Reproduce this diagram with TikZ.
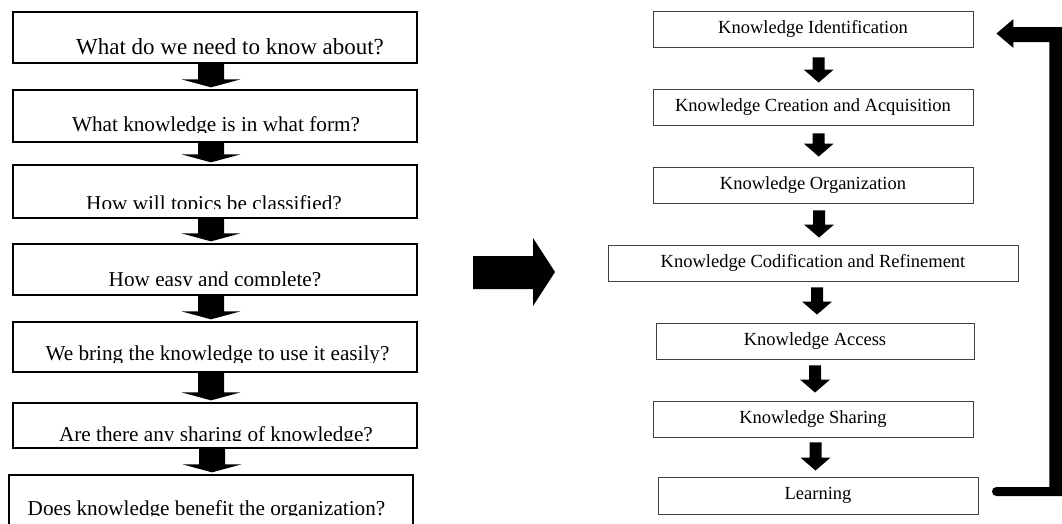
\documentclass[tikz,border=0pt]{standalone}
\usepackage{fontspec}
\setmainfont{Liberation Serif}
\usetikzlibrary{calc}
\newcommand\karrow[5]{%
  \fill[arrowfill] let \p1=(#1), \p2=(#2) in
    (\x1-#3,\y1) -- (\x1+#3,\y1) -- (\x1+#3,\y2+#5) -- (\x1+#4,\y2+#5) --
    (\x1,\y2) -- (\x1-#4,\y2+#5) -- (\x1-#3,\y2+#5) -- cycle;}
\tikzset{
  arrowfill/.style={fill=black},
  lbox/.style={draw=black, line width=1.3pt, inner sep=0pt, minimum width=404pt},
  ltext/.style={anchor=base, inner sep=0pt, font=\fontsize{21.2}{24}\selectfont},
  rbox/.style={draw=black!75, line width=0.9pt, inner sep=0pt, minimum height=36pt,
    font=\fontsize{18.5}{20}\selectfont, text height=13pt, text depth=4.5pt},
}
\begin{document}
\begin{tikzpicture}[x=1pt,y=-1pt]
\useasboundingbox (0,0) rectangle (1062,523);
\fill[white] (0,0) rectangle (1062,523);

% ---------- left column ----------
\node[lbox, minimum height=51pt] (b1) at (215,37.5) {};
\node[lbox, minimum height=52pt] (b2) at (215,116) {};
\node[lbox, minimum height=53pt] (b3) at (215,191.5) {};
\node[lbox, minimum height=51pt] (b4) at (215,269.5) {};
\node[lbox, minimum height=50pt] (b5) at (215,347) {};
\node[lbox, minimum height=45pt] (b6) at (215,425.5) {};
\node[lbox, minimum height=65pt] (b7) at (211,507.5) {};

\node[ltext, font=\fontsize{23}{26}\selectfont] (t1) at (230,54) {What do we need to know about?};
\begin{scope}\clip (13,90) rectangle (417,132);
\node[ltext] (t2) at (216,131) {What knowledge is in what form?};\end{scope}
\begin{scope}\clip (13,165) rectangle (417,208.5);
\node[ltext] (t3) at (214,210) {How will topics be classified?};\end{scope}
\begin{scope}\clip (13,244) rectangle (417,285);
\node[ltext] (t4) at (215,286.5) {How easy and complete?};\end{scope}
\begin{scope}\clip (13,322) rectangle (417,362);
\node[ltext] (t5) at (217.5,360.5) {We bring the knowledge to use it easily?};\end{scope}
\begin{scope}\clip (13,403) rectangle (417,440);
\node[ltext] (t6) at (216,441.5) {Are there any sharing of knowledge?};\end{scope}
\begin{scope}\clip (9,475) rectangle (413,515);
\node[ltext] (t7) at (206.5,515.5) {Does knowledge benefit the organization?};\end{scope}

\karrow{[xshift=-4pt]b1.south}{[yshift=2pt]b2.north}{13pt}{29.5pt}{8pt}
\karrow{[xshift=-4pt]b2.south}{[yshift=2pt]b3.north}{13pt}{29.5pt}{8pt}
\karrow{[xshift=-4pt]b3.south}{[yshift=2pt]b4.north}{13pt}{29.5pt}{8pt}
\karrow{[xshift=-4pt]b4.south}{[yshift=2pt]b5.north}{13pt}{29.5pt}{8pt}
\karrow{[xshift=-4pt]b5.south}{[yshift=2pt]b6.north}{13pt}{29.5pt}{8pt}
\karrow{[xshift=-3pt]b6.south}{[yshift=2pt]b7.north}{13pt}{29.5pt}{8pt}

% ---------- middle arrow ----------
\fill[black] (473,256) -- (533,256) -- (533,238) -- (555,272) -- (533,306)
  -- (533,289) -- (473,289) -- cycle;

% ---------- right column ----------
\node[rbox, minimum width=320pt] (r1) at (813,29) {Knowledge Identification};
\node[rbox, minimum width=320pt] (r2) at (813,107) {Knowledge Creation and Acquisition};
\node[rbox, minimum width=320pt] (r3) at (813,185) {Knowledge Organization};
\node[rbox, minimum width=410pt] (r4) at (813,263) {Knowledge Codification and Refinement};
\node[rbox, minimum width=318pt] (r5) at (815,341) {Knowledge Access};
\node[rbox, minimum width=320pt] (r6) at (813,419) {Knowledge Sharing};
\node[rbox, minimum width=320pt, minimum height=37pt] (r7) at (818,495.5) {Learning};

\karrow{[xshift=5.7pt,yshift=-10pt]r1.south}{[yshift=6pt]r2.north}{6pt}{15pt}{13pt}
\karrow{[xshift=5.7pt,yshift=-8pt]r2.south}{[yshift=10pt]r3.north}{6pt}{15pt}{13pt}
\karrow{[xshift=6pt,yshift=-7pt]r3.south}{[yshift=7pt]r4.north}{6pt}{15pt}{13pt}
\karrow{[xshift=4pt,yshift=-6pt]r4.south}{[yshift=8pt]r5.north}{6pt}{15pt}{13pt}
\karrow{[xshift=0pt,yshift=-6pt]r5.south}{[yshift=8pt]r6.north}{6pt}{15pt}{13pt}
\karrow{[xshift=2.5pt,yshift=-5pt]r6.south}{[yshift=6pt]r7.north}{6pt}{15pt}{13pt}

% ---------- feedback arrow ----------
\coordinate (fbstart) at ([xshift=18pt,yshift=4pt]r7.east);
\coordinate (fbend) at ([xshift=23pt,yshift=-4.5pt]r1.east);
\fill[black] let \p1=(fbstart), \p2=(fbend) in
  (\x1,\y1+4.5pt) -- (\x1+53pt,\y1+4.5pt) -- (\x1+53pt,\y2-8.5pt) --
  (\x2+17pt,\y2-8.5pt) -- (\x2+17pt,\y2-14.5pt) -- (\x2,\y2) --
  (\x2+17pt,\y2+14.5pt) -- (\x2+17pt,\y2+6.5pt) -- (\x1+66pt,\y2+6.5pt) --
  (\x1+66pt,\y1-4.5pt) -- (\x1,\y1-4.5pt) -- cycle;
\fill[black] (fbstart) circle[radius=4.5pt];
\end{tikzpicture}
\end{document}
